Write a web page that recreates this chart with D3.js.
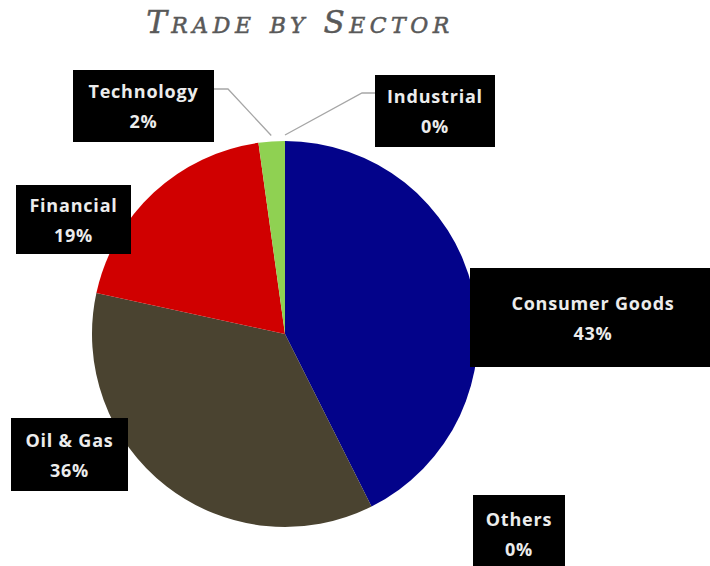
<!DOCTYPE html>
<html>
<meta charset="utf-8">
<head>
<title>trade by sector</title>
	<script src="https://d3js.org/d3.v7.min.js"></script>
	<style>
		body { margin:0; background:#fff; }
	</style>
</head>

<body>
	<div id = "plot"></div>
</body>

<script>

// data, in slice order clockwise from 12 o'clock
var sectors = ["Industrial", "Consumer Goods", "Others", "Oil & Gas", "Financial", "Technology"];
var shares  = [0, 42.6, 0, 35.8, 19.4, 2.2];
var colors  = ["#7f7f7f", "#03038a", "#7f7f7f", "#4a4330", "#d00000", "#8fd152"];

// where excel left each label box (x, y, w, h) and the elbow of the leader line
var boxes = {
	"Technology":     {x:73,  y:70,  w:141, h:72, line:[[214,89],[228,89]]},
	"Industrial":     {x:375, y:75,  w:120, h:72, line:[[375,93],[362,93]]},
	"Financial":      {x:16,  y:185, w:115, h:69},
	"Consumer Goods": {x:470, y:268, w:246, h:99},
	"Oil & Gas":      {x:11,  y:418, w:117, h:73},
	"Others":         {x:473, y:495, w:92,  h:80}
};

var width = 710, height = 566;
var cx = 285, cy = 334, radius = 193;

var svg = d3.select("#plot").append("svg")
		.attr("width", width)
		.attr("height", height);

svg.append("text")
.attr("x", 300)
.attr("y", 33)
.attr("text-anchor", "middle")
.attr("font-family", "DejaVu Serif")
.attr("font-style", "italic")
.attr("font-variant", "small-caps")
.attr("font-size", "31px")
.attr("letter-spacing", "4.5px")
.attr("stroke", "#595959")
.attr("stroke-width", 0.5)
.attr("fill", "#595959")
.text("Trade by Sector");

var data = sectors.map(function(s, i){ return {name:s, value:shares[i], color:colors[i]}; });

var pie = d3.pie()
			.sort(null)
			.value(function(d){ return d.value; });

var arc = d3.arc().innerRadius(0).outerRadius(radius);

var arcs = pie(data);

var g = svg.append("g")
.attr("transform", "translate("+cx+","+cy+")");

g.selectAll("path")
.data(arcs)
.enter()
.append("path")
.attr("d", arc)
.attr("fill", function(d){ return d.data.color; });

// leader lines for the two thin slices at the top
var outer = d3.arc().innerRadius(radius + 6).outerRadius(radius + 6);

arcs.forEach(function(a){
	var b = boxes[a.data.name];
	if (!b.line) return;
	var p = outer.centroid(a);
	var pts = b.line.concat([[p[0] + cx, p[1] + cy]]);
	svg.append("path")
	.attr("d", d3.line()(pts))
	.attr("fill", "none")
	.attr("stroke", "#a6a6a6")
	.attr("stroke-width", 1.3);
});

var label = svg.selectAll(".label")
.data(arcs)
.enter()
.append("g")
.attr("class", "label");

label.append("rect")
.attr("x", function(d){ return boxes[d.data.name].x; })
.attr("y", function(d){ return boxes[d.data.name].y; })
.attr("width", function(d){ return boxes[d.data.name].w; })
.attr("height", function(d){ return boxes[d.data.name].h; })
.attr("fill", "#000");

label.append("text")
.attr("text-anchor", "middle")
.attr("font-family", "Open Sans")
.attr("font-weight", "bold")
.attr("font-size", "18px")
.attr("letter-spacing", "0.8px")
.attr("fill", "#ececec")
.each(function(d){
	var b = boxes[d.data.name];
	var t = d3.select(this);
	var mid = b.x + b.w / 2;
	var top = b.y + b.h / 2 - 15;
	if (d.data.name == "Others") top = b.y + 24;
	t.append("tspan").attr("x", mid).attr("y", top + 7).text(d.data.name);
	t.append("tspan").attr("x", mid).attr("y", top + 37).text(Math.round(d.data.value) + "%");
});

</script>
</html>
